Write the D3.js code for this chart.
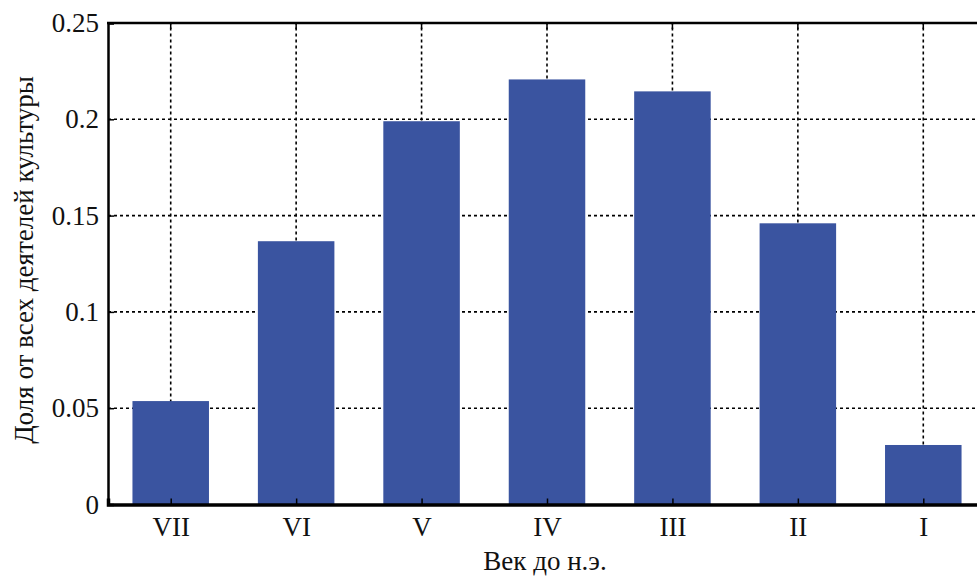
<!DOCTYPE html>
<html>
<head>
<meta charset="utf-8">
<script src="https://cdn.jsdelivr.net/npm/d3@7"></script>
<style>
  body { margin: 0; background: #fff; }
  svg text { fill: #111; }
</style>
</head>
<body>
<div id="chart"></div>
<script>
// data
const centuries = ["VII", "VI", "V", "IV", "III", "II", "I"];
const shares = [0.0537, 0.1367, 0.199, 0.2207, 0.2145, 0.146, 0.0309];
const yTicks = [0, 0.05, 0.1, 0.15, 0.2, 0.25];

const width = 977, height = 576;
const margin = { top: 23, left: 108, bottom: 71.5 };
const plotRight = 986; // runs past the window edge like the original
const serif = "'Liberation Serif', 'DejaVu Serif', 'Times New Roman', serif";

const svg = d3.select("#chart").append("svg")
  .attr("width", width)
  .attr("height", height);

const x = d3.scaleLinear()
  .domain([0.5, centuries.length + 0.5])
  .range([margin.left, plotRight]);

const y = d3.scaleLinear()
  .domain([0, 0.25])
  .range([height - margin.bottom, margin.top]);

const step = x(2) - x(1);
const barW = step * 0.61;

// grid
const grid = svg.append("g")
  .attr("stroke", "#000")
  .attr("stroke-width", 1.6)
  .attr("stroke-dasharray", "3,3");

grid.selectAll("line.h")
  .data(yTicks.filter(d => d > 0 && d < 0.25))
  .join("line")
  .attr("class", "h")
  .attr("x1", margin.left).attr("x2", plotRight)
  .attr("y1", d => y(d)).attr("y2", d => y(d));

grid.selectAll("line.v")
  .data(centuries)
  .join("line")
  .attr("class", "v")
  .attr("x1", (d, i) => x(i + 1)).attr("x2", (d, i) => x(i + 1))
  .attr("y1", y(0)).attr("y2", y(0.25));

// bars
svg.append("g")
  .selectAll("rect")
  .data(shares)
  .join("rect")
  .attr("x", (d, i) => x(i + 1) - barW / 2)
  .attr("width", barW)
  .attr("y", d => y(d))
  .attr("height", d => y(0) - y(d))
  .attr("fill", "#3A54A0");

// axes
const yAxis = d3.axisLeft(y).tickValues(yTicks).tickFormat(d => String(+d.toFixed(2))).tickSize(-6).tickPadding(9);
const yg = svg.append("g")
  .attr("transform", `translate(${margin.left},0)`)
  .call(yAxis)
  .attr("font-family", serif)
  .attr("font-size", 27);
yg.select(".domain").attr("stroke", "#000").attr("stroke-width", 2.5);
yg.selectAll(".tick line").attr("stroke", "#000").attr("stroke-width", 1.5);

const xAxis = d3.axisBottom(x).tickValues(d3.range(1, centuries.length + 1))
  .tickFormat(d => centuries[d - 1]).tickSize(-6).tickPadding(12);
const xg = svg.append("g")
  .attr("transform", `translate(0,${y(0)})`)
  .call(xAxis)
  .attr("font-family", serif)
  .attr("font-size", 27);
xg.select(".domain").attr("stroke", "#000").attr("stroke-width", 3.5);
xg.selectAll(".tick line").attr("stroke", "#000").attr("stroke-width", 1.5);

// top frame line
svg.append("line")
  .attr("x1", margin.left - 1).attr("x2", plotRight)
  .attr("y1", y(0.25)).attr("y2", y(0.25))
  .attr("stroke", "#000").attr("stroke-width", 2.5);
svg.append("g").selectAll("line")
  .data(centuries)
  .join("line")
  .attr("x1", (d, i) => x(i + 1)).attr("x2", (d, i) => x(i + 1))
  .attr("y1", y(0.25)).attr("y2", y(0.25) + 6)
  .attr("stroke", "#000").attr("stroke-width", 1.5);

// titles
svg.append("text")
  .attr("x", 545)
  .attr("y", 570)
  .attr("text-anchor", "middle")
  .attr("font-family", serif)
  .attr("font-size", 27)
  .text("Век до н.э.");

svg.append("text")
  .attr("transform", `translate(33,260) rotate(-90)`)
  .attr("text-anchor", "middle")
  .attr("font-family", serif)
  .attr("font-size", 27)
  .text("Доля от всех деятелей культуры");
</script>
</body>
</html>
